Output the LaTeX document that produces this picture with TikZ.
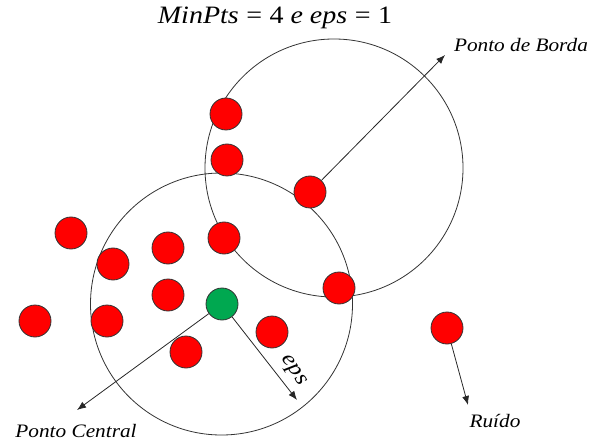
\documentclass[tikz,border=0pt]{standalone}
\usepackage{fontspec}
\setmainfont{Liberation Serif}[FakeStretch=1.12]
\usetikzlibrary{arrows.meta}
\definecolor{ptgreen}{RGB}{0,168,80}
\begin{document}
\begin{tikzpicture}[x=1pt,y=-1pt,
  pt/.style={circle,draw=black!80,line width=0.8pt,fill=red,minimum size=32pt,inner sep=0pt},
  core/.style={pt,fill=ptgreen},
  rng/.style={draw=black!80,line width=0.8pt},
  arr/.style={-{Latex[length=9pt,width=7pt]},line width=0.8pt,black!85},
  lbl/.style={font=\fontsize{19}{21}\selectfont\itshape}]
\useasboundingbox (0,0) rectangle (593,443);
\draw[rng] (221.5,304) circle[radius=131];
\draw[rng] (334,168) circle[radius=129];
\node[pt] (b1) at (226,114) {};
\node[pt] (b2) at (227,160) {};
\node[pt] (bd) at (310,192) {};
\node[pt] (b4) at (224,238) {};
\node[pt] (b5) at (339,288) {};
\node[pt] (p1) at (71,233) {};
\node[pt] (p2) at (113,264) {};
\node[pt] (p3) at (168,248) {};
\node[pt] (p4) at (168,295) {};
\node[pt] (p5) at (107,321) {};
\node[pt] (p6) at (35,321) {};
\node[pt] (p7) at (272,332) {};
\node[pt] (p8) at (186,352) {};
\node[pt] (nz) at (447,328) {};
\node[core] (c) at (222,304) {};
\node[font=\fontsize{25}{27}\selectfont] (title) at (275,18) {\textit{MinPts}\hspace{0.3em}=\hspace{0.3em}4 \textit{e eps}\hspace{0.3em}=\hspace{0.3em}1};
\coordinate (ce) at (77,410);
\coordinate (ee) at (297,400);
\coordinate (be) at (445,55);
\coordinate (ne) at (468,405);
\node[lbl] (lc) at (76,431) {Ponto Central};
\node[lbl] (lb) at (521,45) {Ponto de Borda};
\node[lbl] (lr) at (495,421) {Ruído};
\draw[arr] (c) -- (ee);
\node[rotate=-57,font=\fontsize{22}{24}\selectfont\itshape,inner sep=0pt] (le) at (293,371) {eps};
\draw[arr] (c) -- (ce);
\draw[arr] (bd) -- (be);
\draw[arr] (nz) -- (ne);
\end{tikzpicture}
\end{document}
